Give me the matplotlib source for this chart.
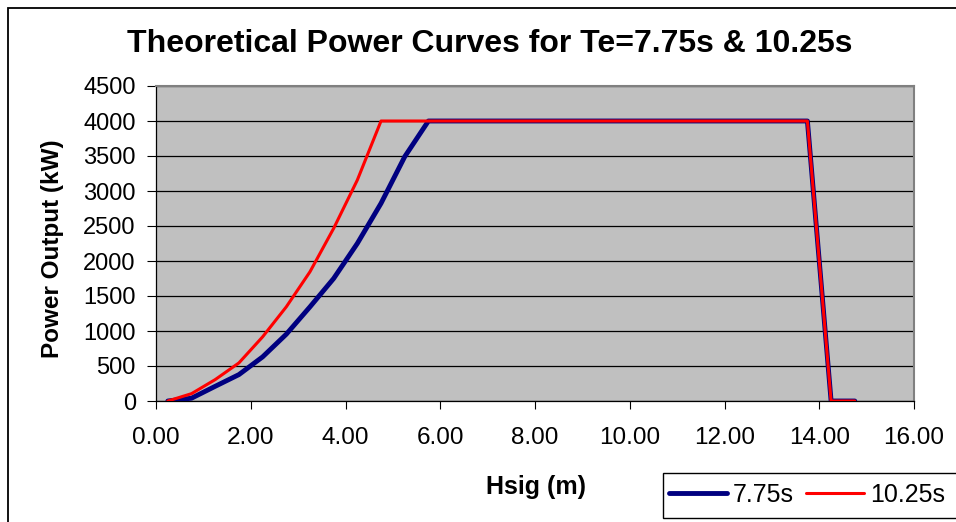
import matplotlib
matplotlib.use('Agg')
import matplotlib.pyplot as plt
from matplotlib.patches import Rectangle

plt.rcParams['font.family'] = ['Liberation Sans', 'DejaVu Sans']

hsig = [0.25, 0.75, 1.25, 1.75, 2.25, 2.75, 3.25, 3.75, 4.25, 4.75,
        5.25, 5.75, 6.25, 6.75, 7.25, 7.75, 8.25, 8.75, 9.25, 9.75,
        10.25, 10.75, 11.25, 11.75, 12.25, 12.75, 13.25, 13.75, 14.25, 14.75]
p_775 = [0, 40, 210, 377, 630, 954, 1345, 1750, 2251, 2824,
         3490, 4000, 4000, 4000, 4000, 4000, 4000, 4000, 4000, 4000,
         4000, 4000, 4000, 4000, 4000, 4000, 4000, 4000, 0, 0]
p_1025 = [0, 105, 306, 544, 916, 1345, 1846, 2466, 3157, 4000,
          4000, 4000, 4000, 4000, 4000, 4000, 4000, 4000, 4000, 4000,
          4000, 4000, 4000, 4000, 4000, 4000, 4000, 4000, 0, 0]
labels = ['7.75s', '10.25s']

W, H = 956, 522
fig = plt.figure(figsize=(W / 100, H / 100), dpi=100)
ax = fig.add_axes([156 / W, 1 - 401 / H, (914 - 156) / W, (401 - 86) / H])

ax.set_facecolor('#C0C0C0')
ax.plot(hsig, p_775, color='#000080', lw=3.5, label=labels[0], solid_capstyle='round', zorder=3)
ax.plot(hsig, p_1025, color='#FF0000', lw=2.2, label=labels[1], solid_capstyle='round', zorder=4)

ax.set_xlim(0, 16)
ax.set_ylim(0, 4500)
ax.set_xticks(range(0, 17, 2))
ax.set_xticklabels(['%.2f' % v for v in range(0, 17, 2)])
ax.set_yticks(range(0, 4501, 500))
ax.yaxis.grid(True, color='black', lw=0.9)
ax.set_axisbelow(True)
ax.tick_params(axis='y', length=6.5, width=0.8, pad=8, labelsize=17)
ax.tick_params(axis='x', length=5.5, width=0.8, pad=13, labelsize=17.5)
for s in ['top', 'right']:
    ax.spines[s].set_color('#808080')
    ax.spines[s].set_linewidth(1.5)
for s in ['left', 'bottom']:
    ax.spines[s].set_color('black')
    ax.spines[s].set_linewidth(0.9)

fig.text(490 / W, 1 - 44 / H, 'Theoretical Power Curves for Te=7.75s & 10.25s',
         ha='center', va='center', fontsize=23, fontweight='bold')
fig.text(53 / W, 1 - 249 / H, 'Power Output (kW)', rotation=90,
         ha='center', va='center', fontsize=17.5, fontweight='bold')
fig.text(536 / W, 1 - 487 / H, 'Hsig (m)', ha='center', va='center',
         fontsize=18, fontweight='bold')

# figure border (runs off the right and bottom edges)
fig.patches.append(Rectangle((8 / W, -0.2), 1.5, 1.2 - 8 / H, transform=fig.transFigure,
                             fill=False, edgecolor='black', lw=1.3))
# legend box, also cut by the right edge
fig.patches.append(Rectangle((663 / W, 1 - 518 / H), 0.5, 45 / H, transform=fig.transFigure,
                             facecolor='white', edgecolor='black', lw=1.0))
fig.legend(loc='center left', bbox_to_anchor=(669 / W, 1 - 495 / H), ncol=2,
           frameon=False, fontsize=18, handlelength=2.3, handletextpad=0.25,
           columnspacing=0.5, borderpad=0, borderaxespad=0)

fig.savefig('out.png', dpi=100)
